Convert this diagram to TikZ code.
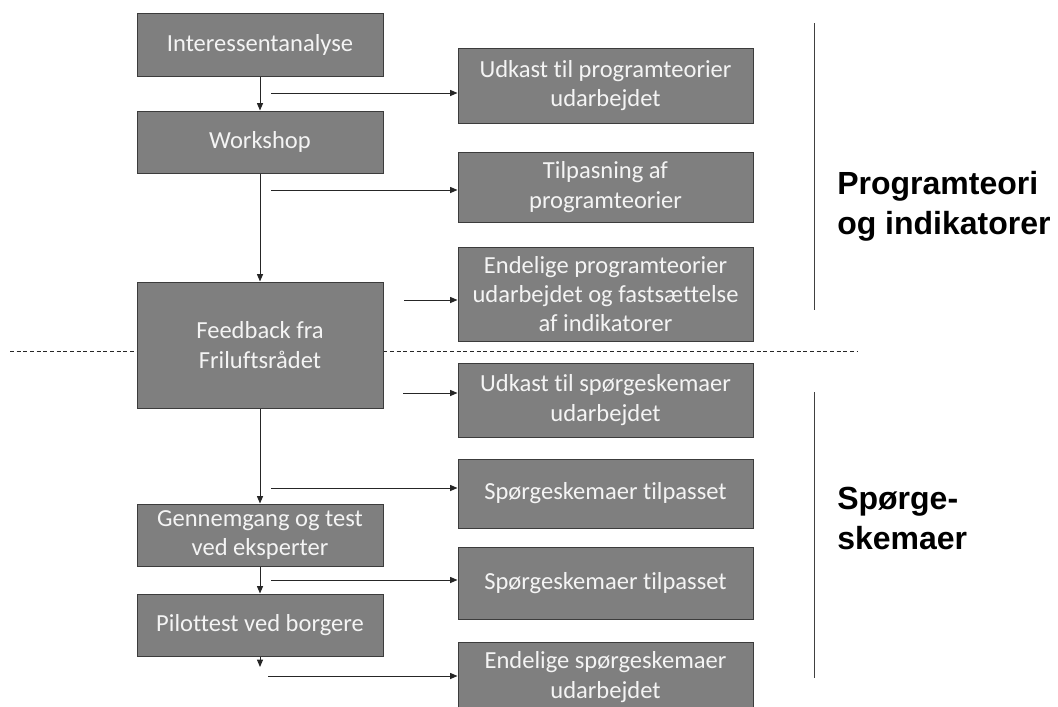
\documentclass[tikz,border=0pt]{standalone}
\usepackage{fontspec}
\setmainfont{Carlito}[Ligatures={NoCommon}]
\newfontfamily\labelfont{Liberation Sans}
\usetikzlibrary{arrows.meta}
\definecolor{boxfill}{RGB}{127,127,127}
\definecolor{boxline}{RGB}{60,60,60}
\definecolor{boxtext}{RGB}{244,244,244}
\begin{document}
\begin{tikzpicture}[x=0.75pt,y=-0.75pt,
  stepbox/.style={draw=boxline, line width=0.75pt, fill=boxfill, text=boxtext,
    font=\fontsize{18.4}{22}\selectfont, align=center, inner sep=0pt},
  leftbox/.style={stepbox, minimum width=184.5pt},
  rightbox/.style={stepbox, minimum width=221.25pt},
  flow/.style={draw=black!85, line width=0.75pt, -{Triangle[length=5.5pt,width=4.5pt]}},
  section/.style={font=\labelfont\bfseries\fontsize{24}{30}\selectfont,
    align=left, anchor=west, inner sep=0pt},
  divider/.style={draw=black!75, line width=0.75pt}]
\useasboundingbox (0,0) rectangle (1058,707);

% phase separator (runs behind the feedback box)
\coordinate (sepL) at (10,351);
\coordinate (sepR) at (858,351);
\draw[black!85, line width=0.6pt, dash pattern=on 3pt off 2pt] (sepL) -- (sepR);

% process steps
\node[leftbox, minimum height=47.25pt] (l1) at (260,44.5) {Interessentanalyse};
\node[leftbox, minimum height=46.5pt]  (l2) at (260,142) {Workshop};
\node[leftbox, minimum height=94.5pt]  (l3) at (260,345) {Feedback fra\\Friluftsrådet};
\node[leftbox, minimum height=46.5pt]  (l4) at (260,535) {Gennemgang og test\\ved eksperter};
\node[leftbox, minimum height=46.5pt]  (l5) at (260,625) {Pilottest ved borgere};

% results
\node[rightbox, minimum height=56.25pt] (r1) at (605.5,85.5) {Udkast til programteorier\\udarbejdet};
\node[rightbox, minimum height=52.5pt]  (r2) at (605.5,187) {Tilpasning af\\programteorier};
\node[rightbox, minimum height=70.5pt]  (r3) at (605.5,294) {Endelige programteorier\\udarbejdet og fastsættelse\\af indikatorer};
\node[rightbox, minimum height=55.5pt]  (r4) at (605.5,400) {Udkast til spørgeskemaer\\udarbejdet};
\node[rightbox, minimum height=51.75pt] (r5) at (605.5,493.5) {Spørgeskemaer tilpasset};
\node[rightbox, minimum height=54pt]    (r6) at (605.5,583) {Spørgeskemaer tilpasset};
\node[rightbox, minimum height=52.5pt]  (r7) at (605.5,677) {Endelige spørgeskemaer\\udarbejdet};

% main flow
\coordinate (flowend) at (260,667);
\draw[flow] (l1) -- (l2);
\draw[flow] (l2) -- (l3);
\draw[flow] (l3) -- (l4);
\draw[flow] (l4) -- (l5);
\draw[flow] (l5) -- (flowend);

% outputs
\coordinate (a1) at (271,93);
\coordinate (a2) at (271,190);
\coordinate (a3) at (404,300);
\coordinate (a4) at (403,393);
\coordinate (a5) at (271,488);
\coordinate (a6) at (271,580);
\coordinate (a7) at (268,676);
\draw[flow] (a1) -- (a1 -| r1.west);
\draw[flow] (a2) -- (a2 -| r2.west);
\draw[flow] (a3) -- (a3 -| r3.west);
\draw[flow] (a4) -- (a4 -| r4.west);
\draw[flow] (a5) -- (a5 -| r5.west);
\draw[flow] (a6) -- (a6 -| r6.west);
\draw[flow] (a7) -- (a7 -| r7.west);

% phase brackets and titles
\coordinate (d1t) at (814,23);
\coordinate (d1b) at (814,310);
\coordinate (d2t) at (814,392);
\coordinate (d2b) at (814,678);
\draw[divider] (d1t) -- (d1b);
\draw[divider] (d2t) -- (d2b);
\node[section] (phase1) at (837,206) {Programteori\\og indikatorer};
\node[section] (phase2) at (837,518) {Spørge-\\skemaer};
\end{tikzpicture}
\end{document}
